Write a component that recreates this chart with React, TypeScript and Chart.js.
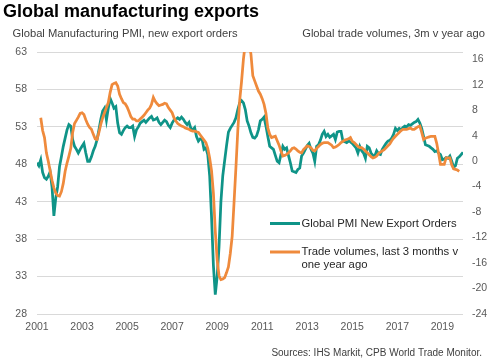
import React, { useEffect, useRef } from "react";
import { Chart, registerables } from "chart.js";

Chart.register(...registerables);

// ---- Data (monthly, Jan 2001 – Dec 2019) ----
const startYear = 2001;

const pmiNewExportOrders: number[] = [
  // 2001
  48.2, 47.8, 48.6, 46.9, 46.2, 46.0, 46.4, 47.0, 45.0, 41.1, 43.5, 45.0,
  // 2002
  47.7, 49.0, 50.4, 51.5, 52.6, 53.3, 53.1, 51.3, 50.4, 50.0, 49.5, 50.0,
  // 2003
  50.4, 50.8, 49.5, 48.4, 48.4, 49.0, 49.8, 50.4, 51.3, 52.6, 54.0, 55.1,
  // 2004
  55.5, 53.9, 55.5, 56.8, 56.2, 55.5, 55.7, 53.5, 52.2, 52.0, 52.5, 52.9,
  // 2005
  53.1, 52.9, 52.9, 53.1, 51.7, 52.6, 53.0, 53.5, 53.7, 53.9, 53.6, 53.9,
  // 2006
  54.2, 54.4, 53.9, 54.0, 54.2, 53.6, 53.3, 53.6, 53.9, 53.7, 53.2, 52.9,
  // 2007
  53.5, 53.9, 54.0, 54.2, 54.0, 54.3, 54.0, 53.6, 53.3, 53.6, 52.8, 52.6,
  // 2008
  52.9, 51.7, 51.1, 51.4, 51.3, 50.0, 50.2, 49.3, 46.5, 41.0, 34.5, 30.6,
  // 2009
  33.0, 37.0, 43.0, 46.5, 48.5, 50.5, 52.3, 52.8, 53.2, 53.6, 54.2, 55.3,
  // 2010
  56.2, 56.5, 56.2, 55.3, 53.8, 53.1, 52.2, 51.6, 51.5, 51.8, 52.6, 53.8,
  // 2011
  54.0, 54.3, 53.1, 51.7, 50.4, 50.2, 50.0, 49.2, 48.4, 48.2, 49.3, 50.4,
  // 2012
  50.0, 50.2, 49.2, 48.2, 47.1, 47.0, 46.9, 47.3, 47.5, 49.1, 49.5, 50.0,
  // 2013
  50.5, 50.8, 50.0, 49.5, 48.4, 50.4, 50.6, 51.2, 52.0, 52.4, 51.7, 52.0,
  // 2014
  51.6, 51.8, 52.0, 51.3, 52.3, 52.4, 52.4, 51.1, 51.0, 50.9, 51.1, 51.0,
  // 2015
  50.8, 50.5, 50.2, 49.5, 50.4, 49.8, 49.5, 48.8, 50.4, 50.2, 49.5, 49.2,
  // 2016
  49.1, 49.8, 49.4, 49.3, 50.0, 50.4, 50.8, 51.1, 51.2, 51.5, 52.0, 52.8,
  // 2017
  52.5, 52.8, 52.6, 52.9, 53.1, 53.0, 53.3, 53.2, 53.4, 53.6, 53.7, 54.0,
  // 2018
  53.5, 52.8, 51.7, 50.6, 50.5, 50.4, 50.2, 50.0, 49.7, 49.8, 49.5, 49.3,
  // 2019
  48.6, 48.7, 48.9, 48.8, 49.1, 48.4, 47.6, 47.8, 48.8, 49.0, 49.3, 49.6,
];

const tradeVolumes3m: (number | null)[] = [
  // 2001
  null, null, 6.8, 4.8, 3.7, 1.3, 0.0, -1.5, -3.0, -4.2, -5.0, -5.4,
  // 2002
  -5.5, -4.8, -3.5, -1.6, -0.3, 0.8, 2.0, 4.5, 5.9, 6.4, 6.9, 7.5,
  // 2003
  7.6, 7.3, 6.5, 5.8, 5.3, 5.0, 4.2, 3.5, 3.4, 4.5, 5.8, 6.8,
  // 2004
  7.6, 8.4, 9.2, 10.8, 12.0, 12.2, 12.3, 11.8, 10.5, 9.8, 9.2, 9.0,
  // 2005
  8.5, 7.8, 7.0, 6.6, 6.6, 6.3, 6.3, 6.6, 6.9, 7.2, 7.6, 8.0,
  // 2006
  8.3, 8.9, 10.0, 9.4, 9.0, 8.7, 8.8, 8.9, 9.1, 9.0, 8.4, 8.0,
  // 2007
  7.6, 6.8, 6.3, 5.9, 5.7, 5.5, 5.4, 5.2, 5.1, 5.0, 4.8, 4.7,
  // 2008
  4.7, 4.6, 4.5, 4.1, 3.7, 3.3, 2.9, 2.0, 0.5, -1.5, -5.0, -11.0,
  // 2009
  -15.5, -18.0, -18.6, -18.5, -18.3, -17.5, -16.6, -14.5, -11.8, -6.5, -1.0, 4.8,
  // 2010
  9.5, 12.5, 16.0, 18.5, 19.5, 18.5, 16.8, 13.4, 12.6, 11.8, 11.0, 10.5,
  // 2011
  9.8, 8.9, 7.5, 5.2, 4.2, 3.7, 3.8, 3.9, 3.2, 2.5, 1.6, 0.8,
  // 2012
  0.9, 1.05, 1.3, 1.6, 2.0, 2.1, 1.9, 1.6, 1.4, 1.3, 1.8, 2.1,
  // 2013
  2.4, 2.3, 2.1, 1.7, 1.6, 2.0, 2.3, 2.6, 2.8, 2.9, 2.9, 2.9,
  // 2014
  2.7, 2.5, 2.1, 2.2, 2.4, 2.6, 2.9, 3.1, 3.3, 3.4, 3.5, 3.7,
  // 2015
  3.1, 2.9, 2.6, 2.3, 2.1, 2.1, 1.9, 1.6, 1.3, 1.0, 0.7, 0.5,
  // 2016
  0.6, 0.8, 1.2, 1.4, 1.6, 1.8, 2.1, 2.4, 2.7, 3.2, 3.6, 3.9,
  // 2017
  4.2, 4.5, 4.8, 5.0, 5.0, 5.0, 5.1, 5.2, 5.0, 5.0, 5.2, 5.4,
  // 2018
  5.5, 4.5, 3.4, 3.6, 3.7, 3.8, 3.9, 3.9, 3.9, 2.8, 1.2, -0.5,
  // 2019
  -0.5, -0.5, 0.5, 0.5, 0.5, -0.6, -1.2, -1.3, -1.4, -1.6, null, null,
];

const xTickYears = [2001, 2003, 2005, 2007, 2009, 2011, 2013, 2015, 2017, 2019];
const leftTicks = [28, 33, 38, 43, 48, 53, 58, 63];
const rightTicks = [-24, -20, -16, -12, -8, -4, 0, 4, 8, 12, 16];

const titleText = "Global manufacturing exports";
const leftSubtitle = "Global Manufacturing PMI, new export orders";
const rightSubtitle = "Global trade volumes, 3m v year ago";
const sourceText = "Sources: IHS Markit, CPB World Trade Monitor.";
const pmiLabel = "Global PMI New Export Orders";
const tradeLabelLines = ["Trade volumes, last 3 months v", "one year ago"];

const TEAL = "#0f9488";
const ORANGE = "#ef8a3c";
const FONT = "'Liberation Sans', Arial, Helvetica, sans-serif";
const TICK_COLOR = "#595959";

export default function App() {
  const ref = useRef<HTMLCanvasElement | null>(null);

  useEffect(() => {
    if (!ref.current) return;
    const toPoints = (arr: (number | null)[]) =>
      arr.map((v, i) => ({ x: startYear + i / 12, y: v }));

    const textPlugin = {
      id: "chartTexts",
      afterDraw(chart: any) {
        const ctx = chart.ctx as CanvasRenderingContext2D;
        ctx.save();
        // title
        ctx.fillStyle = "#000";
        ctx.textBaseline = "alphabetic";
        ctx.textAlign = "left";
        ctx.font = `bold 18px ${FONT}`;
        ctx.fillText(titleText, 3, 16.7);
        // subtitles
        ctx.fillStyle = "#404040";
        ctx.font = `11.2px ${FONT}`;
        ctx.fillText(leftSubtitle, 12.5, 36.7);
        ctx.textAlign = "right";
        ctx.fillText(rightSubtitle, 485, 36.7);
        // source
        ctx.font = `10px ${FONT}`;
        ctx.fillText(sourceText, 482, 355.5);
        // legend
        ctx.textAlign = "left";
        ctx.textBaseline = "middle";
        ctx.lineWidth = 3;
        ctx.lineCap = "butt";
        ctx.strokeStyle = TEAL;
        ctx.beginPath();
        ctx.moveTo(270, 223.5);
        ctx.lineTo(300, 223.5);
        ctx.stroke();
        ctx.strokeStyle = ORANGE;
        ctx.beginPath();
        ctx.moveTo(270, 252);
        ctx.lineTo(300, 252);
        ctx.stroke();
        ctx.fillStyle = "#262626";
        ctx.font = `11.3px ${FONT}`;
        ctx.fillText(pmiLabel, 301.5, 224);
        ctx.fillText(tradeLabelLines[0], 301.5, 251.5);
        ctx.fillText(tradeLabelLines[1], 301.5, 265);
        ctx.restore();
      },
    };

    const tickFont = { family: FONT, size: 10.5 };

    const chart = new Chart(ref.current, {
      type: "line",
      data: {
        datasets: [
          {
            label: pmiLabel,
            data: toPoints(pmiNewExportOrders),
            borderColor: TEAL,
            backgroundColor: TEAL,
            borderWidth: 2.75,
            pointRadius: 0,
            tension: 0,
            yAxisID: "yL",
            order: 2,
          },
          {
            label: tradeLabelLines.join(" "),
            data: toPoints(tradeVolumes3m),
            borderColor: ORANGE,
            backgroundColor: ORANGE,
            borderWidth: 2.75,
            pointRadius: 0,
            tension: 0,
            yAxisID: "yR",
            order: 1,
          },
        ],
      },
      options: {
        responsive: false,
        animation: false,
        events: [],
        layout: { padding: { top: 52, left: 0, right: 0, bottom: 0 } },
        plugins: {
          legend: { display: false },
          tooltip: { enabled: false },
          title: { display: false },
        },
        scales: {
          x: {
            type: "linear",
            min: startYear,
            max: startYear + (pmiNewExportOrders.length - 1) / 12,
            grid: { display: false, drawTicks: false },
            border: { display: false },
            afterBuildTicks: (s: any) => {
              s.ticks = xTickYears.map((v) => ({ value: v }));
            },
            afterFit: (s: any) => {
              s.height = 49;
            },
            ticks: {
              callback: (v: any) => String(v),
              color: TICK_COLOR,
              font: tickFont,
              padding: 7,
              maxRotation: 0,
              autoSkip: false,
            },
          },
          yL: {
            type: "linear",
            position: "left",
            min: leftTicks[0],
            max: leftTicks[leftTicks.length - 1],
            grid: { color: "#d9d9d9", lineWidth: 1, drawTicks: false },
            border: { display: false },
            afterBuildTicks: (s: any) => {
              s.ticks = leftTicks.map((v) => ({ value: v }));
            },
            afterFit: (s: any) => {
              s.width = 37;
            },
            ticks: {
              callback: (v: any) => String(v),
              color: TICK_COLOR,
              font: tickFont,
              padding: 10,
            },
          },
          yR: {
            type: "linear",
            position: "right",
            min: rightTicks[0],
            max: 17.13,
            grid: { display: false, drawTicks: false },
            border: { display: false },
            afterBuildTicks: (s: any) => {
              s.ticks = rightTicks.map((v) => ({ value: v }));
            },
            afterFit: (s: any) => {
              s.width = 30;
            },
            ticks: {
              callback: (v: any) => String(v),
              color: TICK_COLOR,
              font: tickFont,
              padding: 9,
            },
          },
        },
      } as any,
      plugins: [textPlugin],
    });

    return () => chart.destroy();
  }, []);

  return (
    <div
      style={{
        position: "fixed",
        left: 0,
        top: 0,
        width: 493,
        height: 363,
        background: "#fff",
      }}
    >
      <canvas ref={ref} width={493} height={363} style={{ display: "block" }} />
    </div>
  );
}
